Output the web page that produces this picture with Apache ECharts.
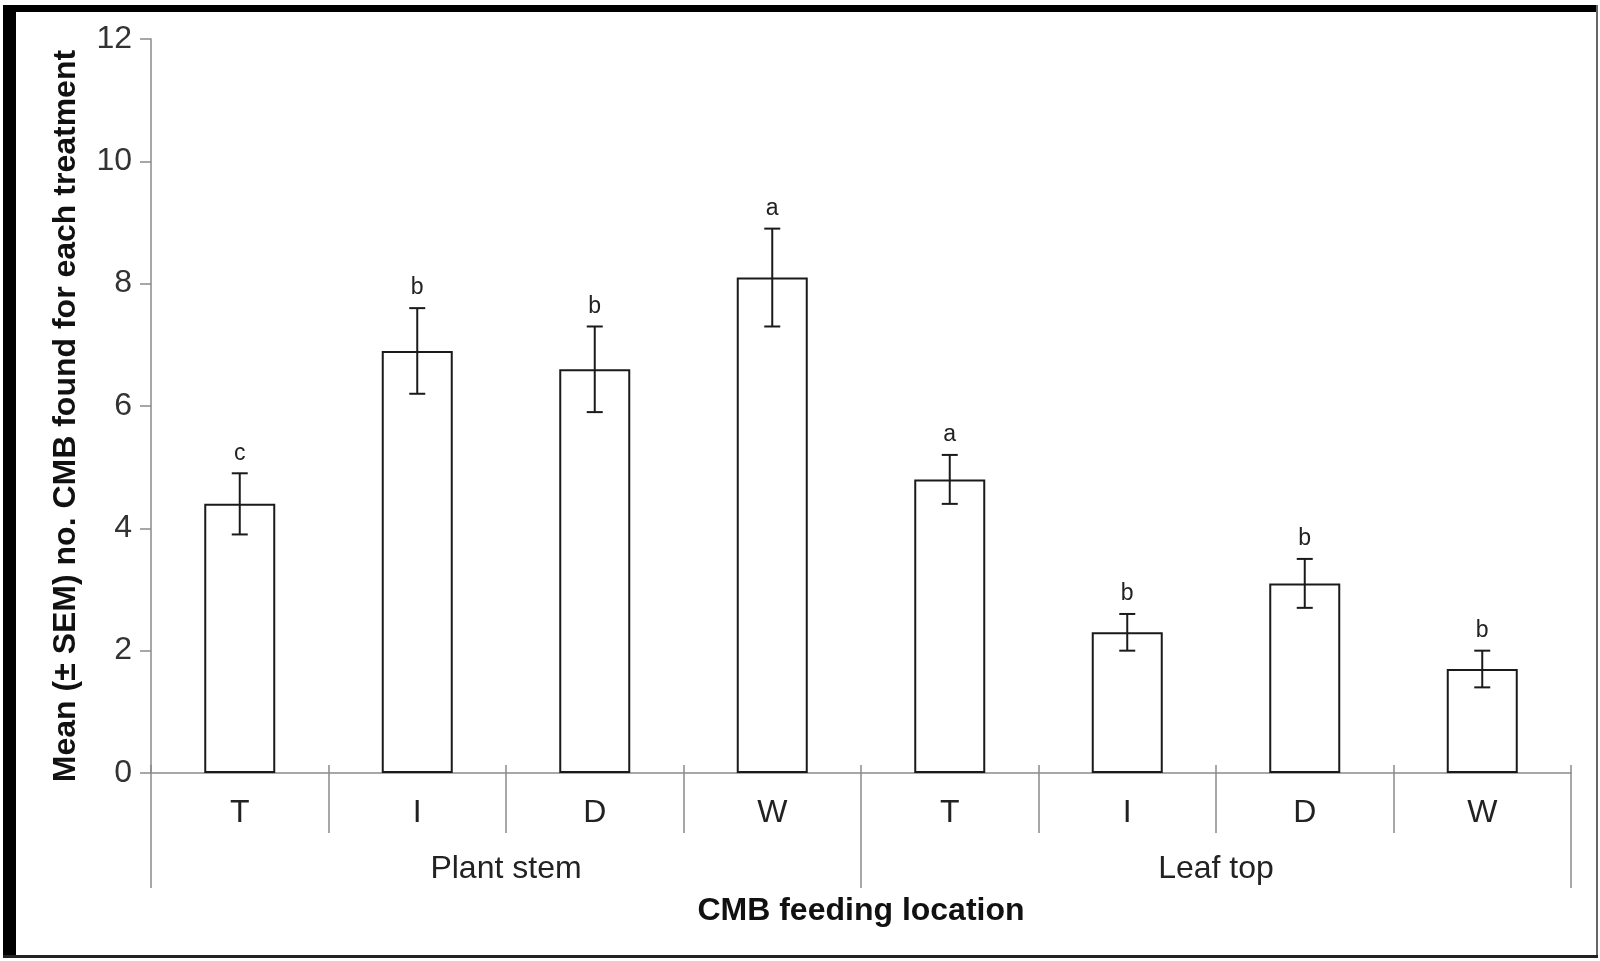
<!DOCTYPE html>
<html>
<head>
<meta charset="utf-8">
<script src="https://cdn.jsdelivr.net/npm/echarts@6/dist/echarts.min.js"></script>
<style>
  html, body { margin: 0; padding: 0; background: #fff; }
  #chart { width: 1600px; height: 961px; }
</style>
</head>
<body>
<div id="chart"></div>
<script>
// Treatments within each feeding location
const treatments = ['T', 'I', 'D', 'W', 'T', 'I', 'D', 'W'];
const locations = ['Plant stem', 'Leaf top'];
// Mean number of CMB per treatment and its standard error
const means = [4.4, 6.9, 6.6, 8.1, 4.8, 2.3, 3.1, 1.7];
const sems = [0.5, 0.7, 0.7, 0.8, 0.4, 0.3, 0.4, 0.3];
// Significance letters above each bar
const letters = ['c', 'b', 'b', 'a', 'a', 'b', 'b', 'b'];
// Value axis range
const yMin = 0, yMax = 12, yStep = 2;

const FONT = '"Liberation Sans", Arial, sans-serif';
const INK = '#1a1a1a';
const AXIS = '#8a8a8a';

const chart = echarts.init(document.getElementById('chart'), null, { renderer: 'canvas' });

const errData = means.map((m, i) => [i, m, sems[i]]);

chart.setOption({
  animation: false,
  backgroundColor: '#fff',
  grid: { left: 151, right: 29, top: 39, bottom: 188, containLabel: false },
  xAxis: [
    {
      type: 'category',
      position: 'bottom',
      data: treatments,
      boundaryGap: true,
      axisLine: { show: true, onZero: false, lineStyle: { color: AXIS, width: 1.5 } },
      axisTick: { show: true, inside: false, length: 60, lineStyle: { color: AXIS, width: 1.5 } },
      axisLabel: { fontFamily: FONT, fontSize: 32, color: '#222', margin: 24 },
      splitLine: { show: false }
    },
    {
      type: 'category',
      position: 'bottom',
      data: locations,
      boundaryGap: true,
      axisLine: { show: false, onZero: false },
      axisTick: { show: true, inside: false, length: 115, lineStyle: { color: AXIS, width: 1.5 } },
      axisLabel: { fontFamily: FONT, fontSize: 32, color: '#222', margin: 80 },
      splitLine: { show: false },
      name: 'CMB feeding location',
      nameLocation: 'middle',
      nameGap: 122,
      nameTextStyle: { fontFamily: FONT, fontSize: 32, fontWeight: 'bold', color: '#111' }
    },
    {
      type: 'category',
      position: 'bottom',
      data: treatments,
      boundaryGap: true,
      axisLine: { show: false, onZero: false },
      axisTick: { show: true, inside: true, length: 8, lineStyle: { color: AXIS, width: 1.5 } },
      axisLabel: { show: false },
      splitLine: { show: false }
    }
  ],
  yAxis: {
    type: 'value',
    min: yMin,
    max: yMax,
    interval: yStep,
    axisLine: { show: true, lineStyle: { color: AXIS, width: 1.5 } },
    axisTick: { show: true, inside: false, length: 11, lineStyle: { color: AXIS, width: 1.5 } },
    axisLabel: { fontFamily: FONT, fontSize: 32, color: '#333', margin: 19 },
    splitLine: { show: false }
  },
  series: [
    {
      type: 'bar',
      xAxisIndex: 0,
      data: means,
      barWidth: 71,
      itemStyle: { color: '#fff', borderColor: INK, borderWidth: 2 },
      z: 2
    },
    {
      type: 'custom',
      xAxisIndex: 0,
      data: errData,
      encode: { x: 0, y: 1 },
      z: 3,
      renderItem: function (params, api) {
        const i = api.value(0), m = api.value(1), s = api.value(2);
        const top = api.coord([i, m + s]);
        const bot = api.coord([i, m - s]);
        const half = 8;
        const style = { stroke: INK, lineWidth: 2 };
        return {
          type: 'group',
          children: [
            { type: 'line', shape: { x1: top[0], y1: top[1], x2: bot[0], y2: bot[1] }, style: style },
            { type: 'line', shape: { x1: top[0] - half, y1: top[1], x2: top[0] + half, y2: top[1] }, style: style },
            { type: 'line', shape: { x1: bot[0] - half, y1: bot[1], x2: bot[0] + half, y2: bot[1] }, style: style },
            {
              type: 'text',
              style: {
                text: letters[params.dataIndex],
                x: top[0], y: top[1] - 20,
                align: 'center', verticalAlign: 'middle',
                font: '23px ' + FONT, fill: '#222'
              }
            }
          ]
        };
      }
    }
  ],
  graphic: [
    // value axis title
    {
      type: 'text',
      x: 66, y: 416,
      rotation: Math.PI / 2,
      style: {
        text: 'Mean (± SEM) no. CMB found for each treatment',
        align: 'center', verticalAlign: 'middle',
        font: 'bold 32px ' + FONT, fill: '#111'
      },
      z: 5
    },
    // picture frame: heavy left/top edge, thin right/bottom edge
    { type: 'rect', shape: { x: 3, y: 5, width: 13, height: 953 }, style: { fill: '#000' }, z: 10 },
    { type: 'rect', shape: { x: 3, y: 5, width: 1595, height: 7 }, style: { fill: '#000' }, z: 10 },
    { type: 'rect', shape: { x: 1596, y: 5, width: 2, height: 953 }, style: { fill: '#666' }, z: 10 },
    { type: 'rect', shape: { x: 3, y: 955, width: 1595, height: 3 }, style: { fill: '#222' }, z: 10 }
  ]
});
</script>
</body>
</html>
